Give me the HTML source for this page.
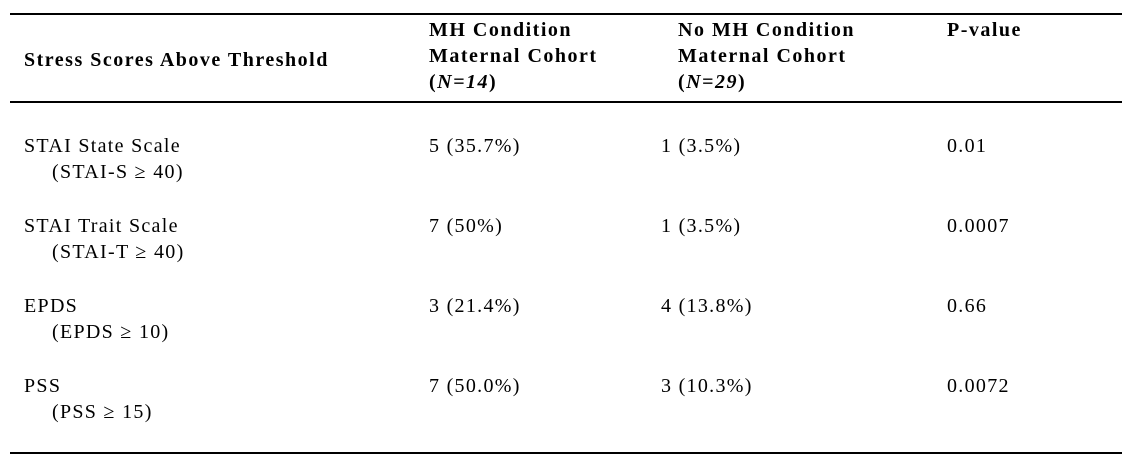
<!DOCTYPE html>
<html><head><meta charset="utf-8">
<style>
body{margin:0;width:1132px;height:466px;background:#fff;position:relative;font-family:"Liberation Serif",serif;color:#000;font-size:20px;letter-spacing:1.3px;overflow:hidden}
.t{position:absolute;white-space:nowrap;line-height:26px}
.b{font-weight:bold;letter-spacing:1.5px}
.rule{position:absolute;left:10px;width:1112px;height:2px;background:#000}
</style></head><body>
<div class="rule" style="top:13px"></div>
<div class="rule" style="top:101px"></div>
<div class="rule" style="top:452px"></div>

<div class="t b" style="left:24px;top:47px">Stress Scores Above Threshold</div>
<div class="t b" style="left:429px;top:17px">MH Condition<br>Maternal Cohort<br>(<i>N=14</i>)</div>
<div class="t b" style="left:678px;top:17px">No MH Condition<br>Maternal Cohort<br>(<i>N</i>=<i>29</i>)</div>
<div class="t b" style="left:947px;top:17px">P-value</div>

<div class="t" style="left:24px;top:133px">STAI State Scale<br><span style="padding-left:28px">(STAI-S ≥ 40)</span></div>
<div class="t" style="left:429px;top:133px">5 (35.7%)</div>
<div class="t" style="left:661px;top:133px">1 (3.5%)</div>
<div class="t" style="left:947px;top:133px">0.01</div>

<div class="t" style="left:24px;top:213px">STAI Trait Scale<br><span style="padding-left:28px">(STAI-T ≥ 40)</span></div>
<div class="t" style="left:429px;top:213px">7 (50%)</div>
<div class="t" style="left:661px;top:213px">1 (3.5%)</div>
<div class="t" style="left:947px;top:213px">0.0007</div>

<div class="t" style="left:24px;top:293px">EPDS<br><span style="padding-left:28px">(EPDS ≥ 10)</span></div>
<div class="t" style="left:429px;top:293px">3 (21.4%)</div>
<div class="t" style="left:661px;top:293px">4 (13.8%)</div>
<div class="t" style="left:947px;top:293px">0.66</div>

<div class="t" style="left:24px;top:373px">PSS<br><span style="padding-left:28px">(PSS ≥ 15)</span></div>
<div class="t" style="left:429px;top:373px">7 (50.0%)</div>
<div class="t" style="left:661px;top:373px">3 (10.3%)</div>
<div class="t" style="left:947px;top:373px">0.0072</div>
</body></html>
